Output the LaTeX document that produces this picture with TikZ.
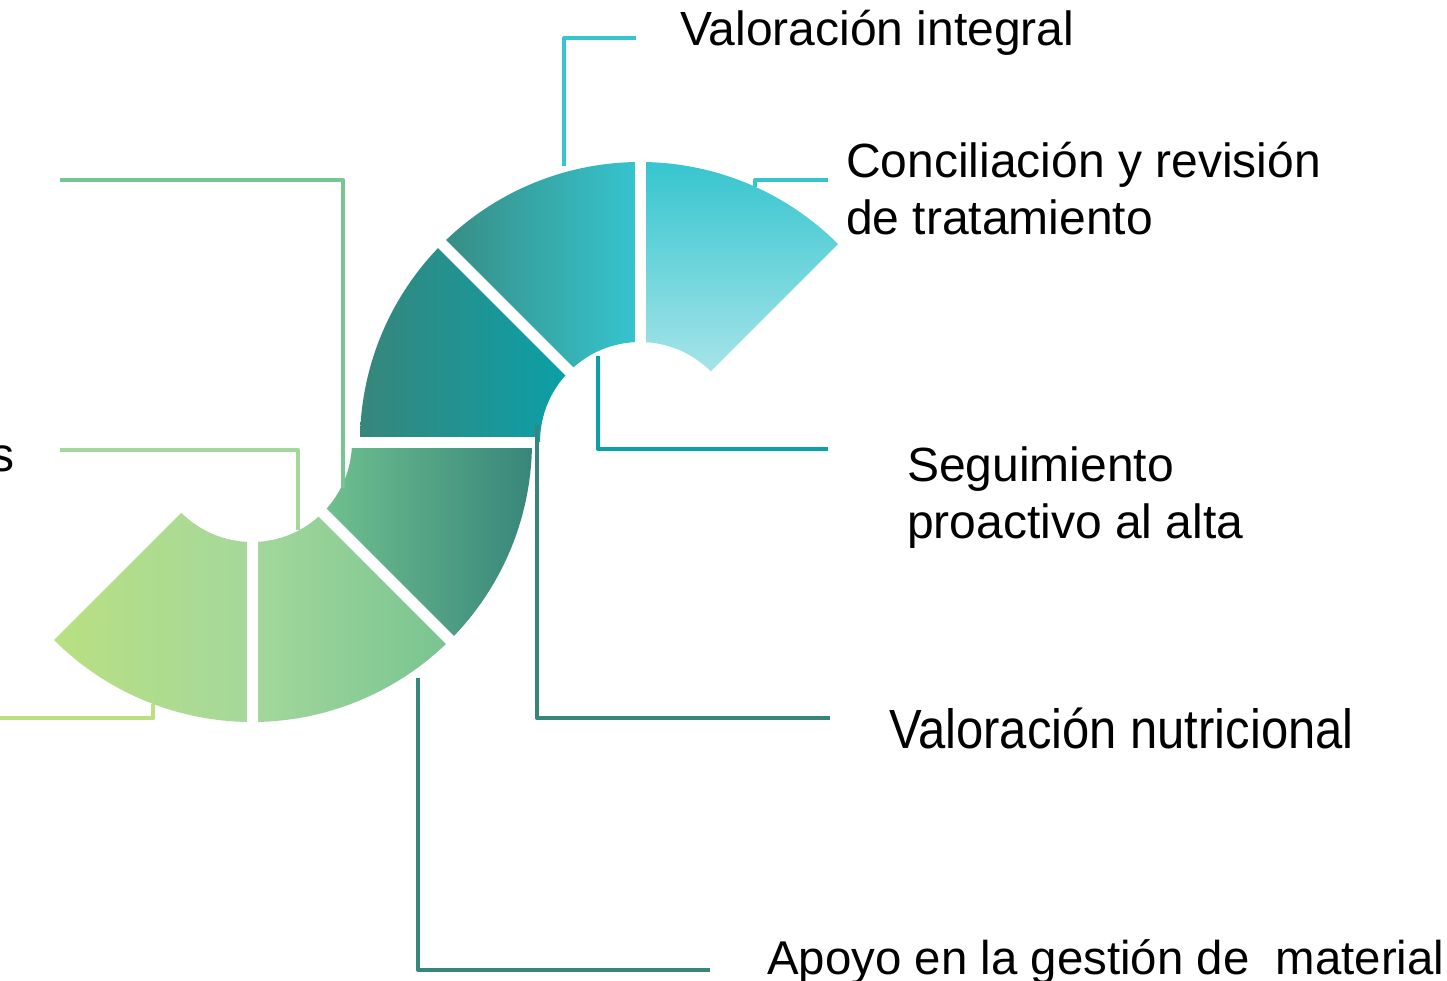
\documentclass[tikz,border=0pt]{standalone}
\usepackage{fontspec}
\setmainfont{Liberation Sans}
\usepackage{tikz}
\usetikzlibrary{calc}
\definecolor{cyanTop}{HTML}{36C5CF}
\definecolor{cyanLight}{HTML}{A5E4E8}
\definecolor{tealDark}{HTML}{37867B}
\definecolor{tealMid}{HTML}{0AA0A8}
\definecolor{greenMid}{HTML}{70C08F}
\definecolor{greenSoft}{HTML}{A4D89B}
\definecolor{greenLine}{HTML}{78C493}
\definecolor{greenYellow}{HTML}{B9E081}

\begin{document}
\begin{tikzpicture}[x=1pt,y=-1pt]
  \tikzstyle{label}=[anchor=base west, inner sep=0pt, align=left, font=\fontsize{48}{57}\selectfont]
  \tikzstyle{connect}=[line width=4pt, line join=round]
  \tikzstyle{gap}=[white, line width=11pt]
  \useasboundingbox (0,0) rectangle (1447,980);
  \coordinate (U) at (640,442);
  \coordinate (L) at (252,442);
    % upper ring
    \shade[top color=cyanTop, bottom color=cyanLight] ($(U)+(-45:280)$) arc[start angle=-45, end angle=-90, radius=280] -- ($(U)+(-90:100)$) arc[start angle=-90, end angle=-45, radius=100] -- cycle;
    \shade[left color=tealDark!90!cyanTop, right color=cyanTop] ($(U)+(-90:280)$) arc[start angle=-90, end angle=-135, radius=280] -- ($(U)+(-135:100)$) arc[start angle=-135, end angle=-90, radius=100] -- cycle;
    \shade[left color=tealDark, right color=tealMid] ($(U)+(-135:280)$) arc[start angle=-135, end angle=-180, radius=280] -- ($(U)+(180:100)$) arc[start angle=-180, end angle=-135, radius=100] -- cycle;
    % lower ring
    \shade[left color=greenMid, right color=tealDark] ($(L)+(0:280)$) arc[start angle=0, end angle=45, radius=280] -- ($(L)+(45:100)$) arc[start angle=45, end angle=0, radius=100] -- cycle;
    \shade[left color=greenSoft, right color=greenMid!85!greenSoft] ($(L)+(45:280)$) arc[start angle=45, end angle=90, radius=280] -- ($(L)+(90:100)$) arc[start angle=90, end angle=45, radius=100] -- cycle;
    \shade[left color=greenYellow, right color=greenSoft] ($(L)+(90:280)$) arc[start angle=90, end angle=135, radius=280] -- ($(L)+(135:100)$) arc[start angle=135, end angle=90, radius=100] -- cycle;
    % white gaps between the pieces
    \draw[gap] ($(U)+(-90:90)$) -- ($(U)+(-90:290)$);
    \draw[gap] ($(U)+(-135:90)$) -- ($(U)+(-135:290)$);
    \draw[gap] (350,442) -- (535,442);
    \draw[gap] ($(L)+(45:90)$) -- ($(L)+(45:290)$);
    \draw[gap] ($(L)+(90:90)$) -- ($(L)+(90:290)$);

    \node[label] (integral) at (680,45) {Valoración integral};
    \node[label] (conciliacion) at (846,234) {Conciliación y revisión\\de tratamiento};
    \node[label] (seguimiento) at (907,538) {Seguimiento\\proactivo al alta};
    \node[label] (nutricional) at (889,748) {\scalebox{1.02}[1.15]{Valoración nutricional}};
    \node[label, font=\fontsize{47.4}{57}\selectfont] (apoyo) at (767,974) {Apoyo en la gestión de\ \ material};
    \node[label, anchor=base east] (otros) at (15,471) {s};

    \coordinate (integral-seg) at (564,166);
    \coordinate (integral-end) at (636,38);
    \coordinate (conciliacion-seg) at (755,187);
    \coordinate (conciliacion-end) at (828,180);
    \coordinate (seguimiento-seg) at (598,356);
    \coordinate (seguimiento-end) at (828,449);
    \coordinate (nutricional-seg) at (537,425);
    \coordinate (nutricional-end) at (830,718);
    \coordinate (apoyo-seg) at (418,678);
    \coordinate (apoyo-end) at (710,970);
    \coordinate (otros-seg) at (298,530);
    \coordinate (otros-end) at (60,450);
    \coordinate (top-seg) at (343,488);
    \coordinate (top-end) at (60,180);
    \coordinate (bottom-seg) at (153,704);
    \coordinate (bottom-end) at (0,718);

    \draw[connect, cyanTop] (integral-seg) |- (integral-end);
    \draw[connect, cyanTop] (conciliacion-seg) |- (conciliacion-end);
    \draw[connect, tealMid] (seguimiento-seg) |- (seguimiento-end);
    \draw[connect, tealDark] (nutricional-seg) |- (nutricional-end);
    \draw[connect, tealDark] (apoyo-seg) |- (apoyo-end);
    \draw[connect, greenSoft] (otros-seg) |- (otros-end);
    \draw[connect, greenLine] (top-seg) |- (top-end);
    \draw[connect, greenYellow] (bottom-seg) |- (bottom-end);
\end{tikzpicture}
\end{document}
